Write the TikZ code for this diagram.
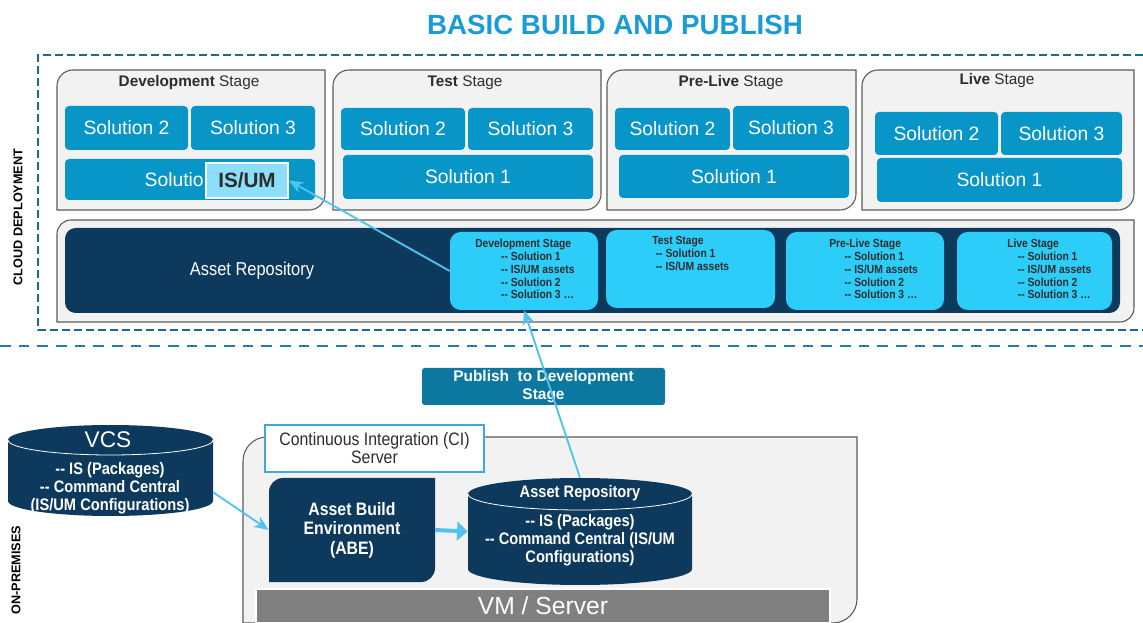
\documentclass[tikz,border=0pt]{standalone}
\usepackage{fontspec}
\setmainfont{Liberation Sans}
\newfontfamily\narrowf[FakeStretch=0.88]{Liberation Sans}
\usetikzlibrary{arrows.meta}
\definecolor{titleblue}{RGB}{27,155,214}
\definecolor{dashdark}{RGB}{25,105,145}
\definecolor{dashlight}{RGB}{35,125,165}
\definecolor{solblue}{RGB}{8,150,200}
\definecolor{stagefill}{RGB}{242,242,242}
\definecolor{stageline}{RGB}{90,90,90}
\definecolor{navy}{RGB}{13,57,92}
\definecolor{cyanbox}{RGB}{45,205,250}
\definecolor{isumfill}{RGB}{140,222,250}
\definecolor{arrowblue}{RGB}{80,195,240}
\definecolor{pubfill}{RGB}{12,120,160}
\definecolor{vmgray}{RGB}{128,128,128}
\definecolor{textdark}{RGB}{45,45,45}
\definecolor{cilabel}{RGB}{60,170,220}
% corner box: rounded top-left and bottom-right corners only
\newcommand{\cornerbox}[6]{%
  \path[#1] (#2,#5) -- (#2,#3+#6) arc[start angle=180,end angle=270,radius=#6]
    -- (#4,#3) -- (#4,#5-#6) arc[start angle=0,end angle=90,radius=#6] -- cycle;}
% node from corners
\newcommand{\bx}[7]{%
  \node[#1, minimum width={(#5-#3)*0.75pt}, minimum height={(#6-#4)*0.75pt}]
    (#2) at ({(#3+#5)/2},{(#4+#6)/2}) {#7};}
% cylinder: style, x1, x2, top-ellipse centre y, bottom-ellipse centre y, ry
\newcommand{\cyl}[6]{%
  \fill[#1] (#2,#4) -- (#2,#5) arc[start angle=180,end angle=0,x radius={(#3-#2)/2},y radius=#6]
    -- (#3,#4) arc[start angle=0,end angle=-180,x radius={(#3-#2)/2},y radius=#6] -- cycle;
  \draw[white,line width=0.6pt] (#2,#4) arc[start angle=180,end angle=0,x radius={(#3-#2)/2},y radius=#6];}
\tikzset{
  sol/.style={fill=solblue, text=white, rounded corners=3pt, inner sep=0pt,
    font=\fontsize{14.5}{16}\selectfont},
  stagetitle/.style={text=textdark, font=\fontsize{11.5}{13}\selectfont, inner sep=0pt},
  stagebg/.style={fill=stagefill, draw=stageline, line width=0.8pt},
  repotext/.style={text=textdark, font=\narrowf\bfseries\fontsize{8.8}{9.6}\selectfont,
    align=left, anchor=north west, inner sep=0pt},
  cyanrepo/.style={fill=cyanbox, rounded corners=8pt, inner sep=0pt},
  arr/.style={draw=arrowblue, line width=1.4pt, -{Stealth[length=11pt,width=9pt]}},
  bigarr/.style={draw=arrowblue, line width=3pt, -{Triangle[length=8pt,width=14pt]}},
  dashcloud/.style={draw=dashdark, line width=1.5pt, dash pattern=on 6pt off 3pt},
  dashprem/.style={draw=dashlight, line width=1.6pt, dash pattern=on 8pt off 6pt},
  sidelabel/.style={font=\bfseries\fontsize{9.5}{11}\selectfont, rotate=90, inner sep=0pt},
  cyltext/.style={text=white, font=\narrowf\bfseries\fontsize{12.5}{13.5}\selectfont, align=center, inner sep=0pt},
}
\begin{document}
\begin{tikzpicture}[x=0.75pt,y=-0.75pt]
\useasboundingbox (0,0) rectangle (1143,623);
\clip (0,0) rectangle (1143,623);

% title
\node[font=\bfseries\fontsize{20.8}{24}\selectfont, text=titleblue] (title) at (615,25) {BASIC BUILD AND PUBLISH};

% dashed frames
\draw[dashcloud] (1143,55) -- (38,55) -- (38,330) -- (1143,330);
\draw[dashprem] (0,346) -- (1143,346);

% side labels
\node[sidelabel] (cloudlbl) at (18,217) {CLOUD DEPLOYMENT};
\node[sidelabel] (premlbl) at (16,570) {ON-PREMISES};

% ---------- stages ----------
\cornerbox{stagebg}{57}{70}{325}{210}{16}
\node[stagetitle] (devt) at (189,83) {\textbf{Development} Stage};
\bx{sol}{d2}{65}{106}{188}{150}{Solution 2}
\bx{sol}{d3}{191}{106}{315}{150}{Solution 3}
\bx{sol}{d1}{65}{159}{315}{200}{}
\node[text=white, font=\fontsize{14.5}{16}\selectfont, inner sep=0pt, anchor=east] (d1txt) at (204,180) {Solutio};
\bx{fill=isumfill, draw=white, line width=1.2pt, inner sep=0pt, text=textdark, font=\bfseries\fontsize{15.5}{17}\selectfont}{isum}{206}{163}{288}{198}{IS/UM}

\cornerbox{stagebg}{333}{70}{601}{210}{16}
\node[stagetitle] (testt) at (465,83) {\textbf{Test} Stage};
\bx{sol}{t2}{341}{108}{465}{150}{Solution 2}
\bx{sol}{t3}{468}{108}{593}{150}{Solution 3}
\bx{sol}{t1}{343}{155}{593}{199}{Solution 1}

\cornerbox{stagebg}{607}{70}{856}{210}{16}
\node[stagetitle] (prelt) at (731,83) {\textbf{Pre-Live} Stage};
\bx{sol}{p2}{615}{108}{730}{150}{Solution 2}
\bx{sol}{p3}{733}{106}{849}{150}{Solution 3}
\bx{sol}{p1}{619}{155}{849}{198}{Solution 1}

\cornerbox{stagebg}{862}{70}{1134}{210}{16}
\node[stagetitle] (livet) at (997,81) {\textbf{Live} Stage};
\bx{sol}{l2}{875}{112}{998}{155}{Solution 2}
\bx{sol}{l3}{1001}{112}{1122}{155}{Solution 3}
\bx{sol}{l1}{877}{158}{1122}{202}{Solution 1}

% ---------- cloud asset repository ----------
\cornerbox{stagebg}{57}{220}{1134}{322}{14}
\bx{fill=navy, rounded corners=8pt, inner sep=0pt}{navyband}{65}{228}{1120}{313}{}
\node[text=white, font=\narrowf\fontsize{14}{16}\selectfont, inner sep=0pt] (repolbl) at (252,271) {Asset Repository};

\bx{cyanrepo}{devrepo}{450}{232}{598}{310}{}
\bx{cyanrepo}{testrepo}{606}{230}{775}{308}{}
\bx{cyanrepo}{prerepo}{786}{232}{944}{310}{}
\bx{cyanrepo}{liverepo}{957}{232}{1112}{310}{}

\node[repotext] (devrt) at (475,239) {Development Stage\\\hspace*{2.2em}-- Solution 1\\\hspace*{2.2em}-- IS/UM assets\\\hspace*{2.2em}-- Solution 2\\\hspace*{2.2em}-- Solution 3 \dots};
\node[repotext] (testrt) at (652,236) {Test Stage\\\hspace*{0.3em}-- Solution 1\\\hspace*{0.3em}-- IS/UM assets};
\node[repotext] (prert) at (829,239) {Pre-Live Stage\\\hspace*{1.3em}-- Solution 1\\\hspace*{1.3em}-- IS/UM assets\\\hspace*{1.3em}-- Solution 2\\\hspace*{1.3em}-- Solution 3 \dots};
\node[repotext] (livert) at (1007,239) {Live Stage\\\hspace*{0.9em}-- Solution 1\\\hspace*{0.9em}-- IS/UM assets\\\hspace*{0.9em}-- Solution 2\\\hspace*{0.9em}-- Solution 3 \dots};

% ---------- on-premises ----------
\bx{fill=pubfill, rounded corners=2pt, inner sep=0pt, text=white, align=center,
  font=\bfseries\fontsize{11.6}{13.5}\selectfont}{publish}{422}{368}{665}{405}{Publish\ \ to Development\\Stage}

% VCS cylinder
\cyl{navy}{8}{213}{440}{501}{15}
\node[text=white, font=\fontsize{17}{18}\selectfont, inner sep=0pt] (vcslbl) at (108,440) {VCS};
\node[cyltext] (vcstext) at (110,488) {-- IS (Packages)\\-- Command Central\\(IS/UM Configurations)};
\bx{inner sep=0pt}{vcs}{8}{425}{213}{516}{}

% CI server
\cornerbox{stagebg}{243}{437}{857}{623}{24}
\bx{fill=white, draw=cilabel, line width=1.2pt, inner sep=0pt, text=textdark, align=center,
  font=\narrowf\fontsize{13.5}{13.5}\selectfont}{cilbl}{265}{425}{484}{472}{Continuous Integration (CI)\\Server}

\cornerbox{fill=navy}{269}{478}{435}{582}{14}
\bx{inner sep=0pt, text=white, align=center, font=\narrowf\bfseries\fontsize{13.5}{14.6}\selectfont}{abe}{269}{478}{435}{582}{Asset Build\\Environment\\(ABE)}

\cyl{navy}{468}{692}{494}{569}{16}
\node[cyltext] (arlbl) at (580,493) {Asset Repository};
\node[cyltext] (artext) at (580,540) {-- IS (Packages)\\-- Command Central (IS/UM\\Configurations)};
\bx{inner sep=0pt}{assetcyl}{468}{478}{692}{585}{}

\bx{fill=vmgray, draw=white, line width=1pt, inner sep=0pt, text=white,
  font=\fontsize{18.5}{20}\selectfont}{vm}{256}{589}{830}{623}{VM / Server}

% ---------- connectors ----------
\draw[arr] (devrepo.west) -- (isum.east);
\draw[arr] (assetcyl.north) -- (devrepo.south);
\draw[arr] (vcs.-12) -- (abe.west);
\draw[bigarr] (abe.east) -- (assetcyl.west);
\end{tikzpicture}
\end{document}
